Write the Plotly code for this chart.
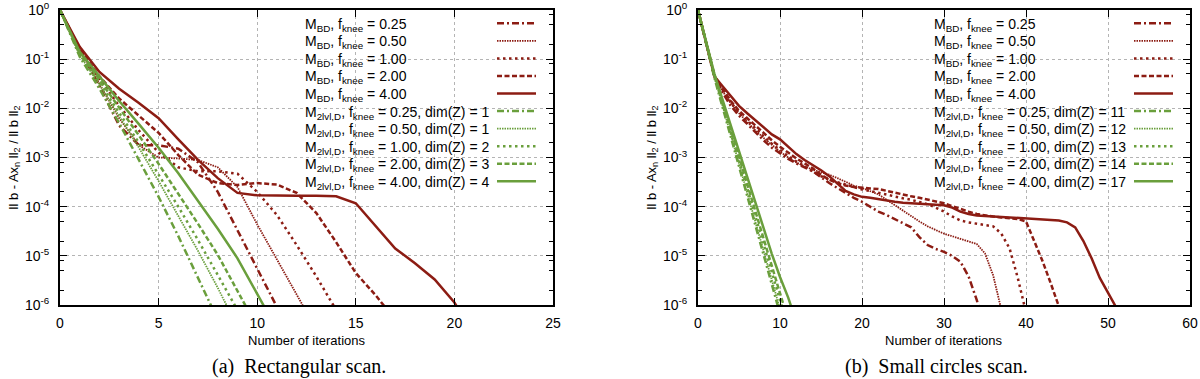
import plotly.graph_objects as go

# ---- data: log10(||b - A x_n||_2 / ||b||_2), one value per iteration n = 0, 1, 2, ...
FKNEE = ["0.25", "0.50", "1.00", "2.00", "4.00"]
DIM_RECT = [1, 1, 2, 3, 4]
DIM_CIRC = [11, 12, 13, 14, 17]

# (a) rectangular scan
rect_bd_025 = [0, -0.8, -1.55, -2.35, -2.75, -2.75, -2.82, -3.1, -3.7, -4.47, -5.25, -6.04]
rect_bd_050 = [0, -0.8, -1.5, -2.2, -2.75, -3.0, -3.02, -3.05, -3.2, -3.6, -4.36, -5.08, -5.82, -6.5]
rect_bd_100 = [0, -0.8, -1.4, -1.95, -2.45, -2.9, -3.2, -3.28, -3.28, -3.33, -3.7, -4.17, -4.78,
               -5.42, -6.1]
rect_bd_200 = [0, -0.8, -1.35, -1.8, -2.15, -2.5, -2.95, -3.35, -3.52, -3.56, -3.52, -3.55, -3.72,
               -4.13, -4.72, -5.35, -5.8, -6.3]
rect_bd_400 = [0, -0.75, -1.26, -1.6, -1.89, -2.2, -2.63, -3.05, -3.42, -3.72, -3.77, -3.78, -3.78,
               -3.78, -3.79, -3.93, -4.38, -4.85, -5.15, -5.48, -5.95, -6.6]
rect_2l_025 = [0, -0.95, -1.6, -2.3, -3.05, -3.8, -4.6, -5.45, -6.3]
rect_2l_050 = [0, -0.92, -1.52, -2.15, -2.8, -3.48, -4.18, -4.9, -5.65, -6.45]
rect_2l_100 = [0, -0.9, -1.48, -2.08, -2.7, -3.35, -4.0, -4.68, -5.38, -6.1]
rect_2l_200 = [0, -0.88, -1.42, -1.98, -2.55, -3.13, -3.73, -4.35, -4.98, -5.7, -6.45]
rect_2l_400 = [0, -0.85, -1.35, -1.85, -2.32, -2.8, -3.32, -3.88, -4.45, -5.05, -5.75, -6.5]

# (b) small circles scan
circ_bd_025 = [0, -0.7, -1.35, -1.68, -1.95, -2.15, -2.32, -2.5, -2.65, -2.8, -2.92, -3.03, -3.12,
               -3.2, -3.28, -3.4, -3.52, -3.62, -3.72, -3.82, -3.9, -4.0, -4.1, -4.17, -4.25, -4.33,
               -4.42, -4.62, -4.78, -4.86, -4.92, -5.0, -5.12, -5.42, -5.9, -6.5]
circ_bd_050 = [0, -0.7, -1.35, -1.65, -1.9, -2.1, -2.28, -2.45, -2.6, -2.75, -2.88, -3.0, -3.1,
               -3.18, -3.25, -3.3, -3.35, -3.42, -3.5, -3.57, -3.62, -3.68, -3.75, -3.86, -3.97,
               -4.08, -4.2, -4.3, -4.4, -4.48, -4.55, -4.6, -4.65, -4.7, -4.76, -4.95, -5.4, -6.1]
circ_bd_100 = [0, -0.7, -1.35, -1.62, -1.88, -2.08, -2.25, -2.42, -2.57, -2.72, -2.85, -2.97, -3.08,
               -3.18, -3.28, -3.38, -3.45, -3.5, -3.55, -3.6, -3.65, -3.68, -3.72, -3.76, -3.8,
               -3.83, -3.86, -3.9, -3.95, -4.02, -4.1, -4.2, -4.28, -4.32, -4.35, -4.38, -4.4,
               -4.55, -4.85, -5.45, -6.15]
circ_bd_200 = [0, -0.7, -1.35, -1.6, -1.85, -2.05, -2.2, -2.35, -2.5, -2.65, -2.78, -2.9, -3.02,
               -3.12, -3.22, -3.35, -3.45, -3.52, -3.57, -3.6, -3.62, -3.63, -3.64, -3.68, -3.72,
               -3.76, -3.79, -3.82, -3.86, -3.9, -3.93, -3.99, -4.05, -4.1, -4.15, -4.18, -4.2,
               -4.22, -4.23, -4.25, -4.3, -4.7, -5.1, -5.55, -6.0, -6.5]
circ_bd_400 = [0, -0.7, -1.35, -1.55, -1.75, -1.95, -2.1, -2.25, -2.4, -2.53, -2.63, -2.78, -2.93,
               -3.05, -3.15, -3.26, -3.38, -3.53, -3.68, -3.75, -3.8, -3.82, -3.85, -3.88, -3.9,
               -3.92, -3.93, -3.94, -3.95, -3.96, -3.97, -4.02, -4.1, -4.15, -4.18, -4.19, -4.2,
               -4.21, -4.22, -4.22, -4.23, -4.25, -4.26, -4.27, -4.28, -4.32, -4.42, -4.7, -5.05,
               -5.45, -5.75, -6.05]
circ_2l_025 = [0, -0.72, -1.38, -1.98, -2.58, -3.18, -3.78, -4.38, -4.98, -5.58, -6.18, -6.78]
circ_2l_050 = [0, -0.71, -1.36, -1.95, -2.54, -3.13, -3.72, -4.31, -4.9, -5.49, -6.08, -6.67]
circ_2l_100 = [0, -0.7, -1.34, -1.91, -2.48, -3.05, -3.62, -4.19, -4.76, -5.33, -5.9, -6.47]
circ_2l_200 = [0, -0.69, -1.32, -1.875, -2.43, -2.985, -3.54, -4.095, -4.65, -5.205, -5.76, -6.315]
circ_2l_400 = [0, -0.68, -1.3, -1.83, -2.36, -2.89, -3.42, -3.95, -4.46, -4.96, -5.43, -5.85, -6.35]

Y_TICKS = [1e-6, 1e-5, 1e-4, 1e-3, 1e-2, 1e-1, 1]
Y_TICKTEXT = ["10<sup>-6</sup>", "10<sup>-5</sup>", "10<sup>-4</sup>", "10<sup>-3</sup>",
              "10<sup>-2</sup>", "10<sup>-1</sup>", "10<sup>0</sup>"]

# ---- styling
W, H = 1200, 379
RED = "#8c1c13"
GREEN = "#6a9f3c"
FONT = "Liberation Sans, Arial, sans-serif"
STYLES = [  # per f_knee: (dash, width)
    ("7px,3px,2px,3px", 2.5),
    ("1.5px,1px", 1.8),
    ("2.5px,3.5px", 2.5),
    ("5px,2.5px", 2.5),
    ("solid", 2.5),
]


def px(x):
    # pixel -> paper fraction
    return x / W


def py(y):
    return 1 - y / H


panels = [
    dict(xa="x", ya="y", dom=(60, 553), xmax=25, xstep=5,
         bd=[rect_bd_025, rect_bd_050, rect_bd_100, rect_bd_200, rect_bd_400],
         tl=[rect_2l_025, rect_2l_050, rect_2l_100, rect_2l_200, rect_2l_400],
         dims=DIM_RECT, text_x=303, sample=(497, 536), caption="(a)\u2002Rectangular scan."),
    dict(xa="x2", ya="y2", dom=(698, 1190), xmax=60, xstep=10,
         bd=[circ_bd_025, circ_bd_050, circ_bd_100, circ_bd_200, circ_bd_400],
         tl=[circ_2l_025, circ_2l_050, circ_2l_100, circ_2l_200, circ_2l_400],
         dims=DIM_CIRC, text_x=932, sample=(1134, 1173), caption="(b)\u2002Small circles scan."),
]

PLOT_TOP, PLOT_BOTTOM = 10, 305
LEG_Y0, LEG_DY = 23.3, 17.55

fig = go.Figure()
annotations = []
shapes = []

for p in panels:
    entries = []
    for i, vals in enumerate(p["bd"]):
        entries.append((vals, RED, STYLES[i], f"M<sub>BD</sub>, f<sub>knee</sub> = {FKNEE[i]}"))
    for i, vals in enumerate(p["tl"]):
        entries.append((vals, GREEN, STYLES[i],
                        f"M<sub>2lvl,D</sub>, f<sub>knee</sub> = {FKNEE[i]}, dim(Z) = {p['dims'][i]}"))

    for k, (vals, color, (dash, width), label) in enumerate(entries):
        fig.add_trace(go.Scatter(
            x=list(range(len(vals))),
            y=[10 ** v for v in vals],
            mode="lines",
            line=dict(color=color, dash=dash, width=width),
            xaxis=p["xa"], yaxis=p["ya"],
            showlegend=False,
            hoverinfo="skip",
        ))
        yy = LEG_Y0 + k * LEG_DY
        annotations.append(dict(
            text=label, x=px(p["text_x"]), y=py(yy + 1.5), xref="paper", yref="paper",
            xanchor="left", yanchor="middle", showarrow=False,
            font=dict(family=FONT, size=14, color="black"),
        ))
        shapes.append(dict(
            type="line", xref="paper", yref="paper",
            x0=px(p["sample"][0]), x1=px(p["sample"][1]), y0=py(yy), y1=py(yy),
            line=dict(color=color, dash=dash, width=width),
        ))

    x0, x1 = p["dom"]
    cx = (x0 + x1) / 2
    annotations.append(dict(
        text="Number of iterations", x=px(cx), y=py(340), xref="paper", yref="paper",
        xanchor="center", yanchor="middle", showarrow=False,
        font=dict(family=FONT, size=13, color="black"),
    ))
    annotations.append(dict(
        text="ll b - Ax<sub>n</sub> ll<sub>2</sub> / ll b ll<sub>2</sub>",
        x=px(x0 - 46), y=py((PLOT_TOP + PLOT_BOTTOM) / 2), xref="paper", yref="paper",
        xanchor="center", yanchor="middle", textangle=-90, showarrow=False, borderpad=0,
        font=dict(family=FONT, size=13, color="black"),
    ))
    annotations.append(dict(
        text=p["caption"], x=px(cx - 8), y=py(366), xref="paper", yref="paper",
        xanchor="center", yanchor="middle", showarrow=False,
        font=dict(family="Liberation Serif, Times New Roman, serif", size=20, color="black"),
    ))

axis_common = dict(
    showline=True, linecolor="black", linewidth=2, mirror="allticks",
    ticks="inside", ticklen=7, tickwidth=1, tickcolor="black",
    showgrid=True, gridcolor="#b4b4b4", griddash="dot", gridwidth=1,
    zeroline=False, automargin=False, ticklabeloverflow="allow",
    tickfont=dict(family=FONT, size=14, color="black"),
)
minor_vals = [m * 10 ** e for e in range(-6, 0) for m in (2, 5, 8)]

layout_axes = {}
for n, p in enumerate(panels):
    sfx = "" if n == 0 else "2"
    layout_axes["xaxis" + sfx] = dict(
        axis_common, domain=[px(p["dom"][0]), px(p["dom"][1])],
        range=[0, p["xmax"]], tickvals=list(range(0, p["xmax"] + 1, p["xstep"])),
        anchor="y" + sfx, ticklabelstandoff=4,
    )
    layout_axes["yaxis" + sfx] = dict(
        axis_common, domain=[py(PLOT_BOTTOM), py(PLOT_TOP)],
        type="log", range=[-6, 0], tickvals=Y_TICKS, ticktext=Y_TICKTEXT,
        anchor="x" + sfx, ticklabelstandoff=6,
        minor=dict(tickvals=minor_vals, ticks="inside", ticklen=4, tickcolor="black",
                   showgrid=False),
    )

fig.update_layout(
    width=W, height=H,
    margin=dict(l=0, r=0, t=0, b=0, autoexpand=False),
    paper_bgcolor="white", plot_bgcolor="white",
    font=dict(family=FONT, size=14, color="black"),
    annotations=annotations, shapes=shapes,
    showlegend=False,
    **layout_axes,
)

# the page's default body margin would push the fixed-size figure off its 1200x379 frame
fig.write_html(
    "out.html",
    config={"displayModeBar": False},
    post_script="document.body.style.margin = '0px';",
)
